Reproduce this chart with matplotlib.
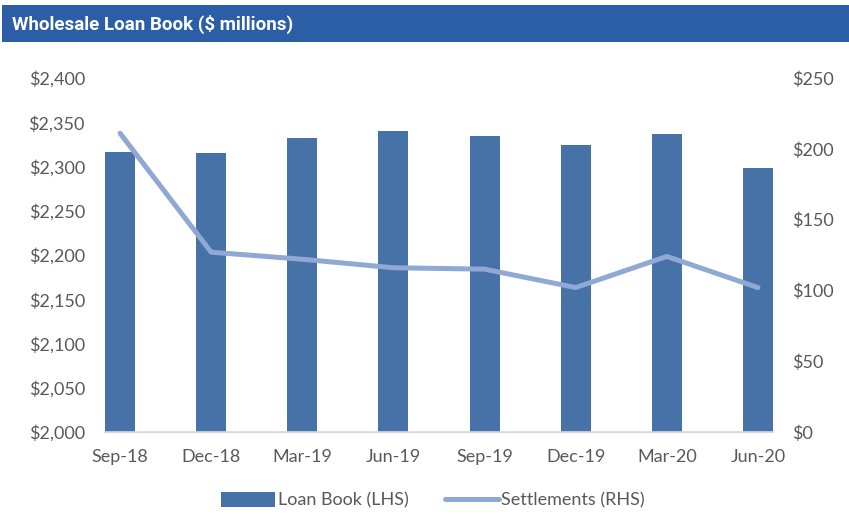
import matplotlib.pyplot as plt
from matplotlib.patches import Rectangle
from matplotlib.ticker import FuncFormatter

quarters = ["Sep-18", "Dec-18", "Mar-19", "Jun-19", "Sep-19", "Dec-19", "Mar-20", "Jun-20"]
loan_book = [2316, 2315, 2332, 2340, 2334, 2324, 2337, 2298]
settlements = [211, 127, 122, 116, 115, 102, 124, 102]

plt.rcParams['font.family'] = ['Lato', 'DejaVu Sans']
grey = '#595959'
bar_col = '#4672A8'
line_col = '#8FA8D4'

fig = plt.figure(figsize=(8.49, 5.15), dpi=100)
W, H = 849, 515

# title banner
fig.patches.append(Rectangle((2 / W, 1 - 42 / H), 847 / W, 37 / H, transform=fig.transFigure,
                             facecolor='#2C5EA8', edgecolor='none'))
fig.text(12 / W, 1 - 24 / H, "Wholesale Loan Book ($ millions)", color='white',
         fontsize=13.5, fontweight='bold', va='center', ha='left',
         family=['Roboto', 'DejaVu Sans'])

ax = fig.add_axes([105 / W, 1 - 432 / H, 668 / W, 354 / H])
x = range(len(quarters))
ax.bar(x, loan_book, width=0.33, color=bar_col, label='Loan Book (LHS)', zorder=2)
ax.set_ylim(2000, 2400)
ax.set_yticks(range(2000, 2401, 50))
ax.yaxis.set_major_formatter(FuncFormatter(lambda v, p: f"${v:,.0f}"))
ax.set_xlim(-0.165, 7.165)
ax.set_xticks(list(x))
ax.set_xticklabels(quarters)

ax2 = ax.twinx()
ax2.plot(x, settlements, color=line_col, lw=3.6, solid_capstyle='round', label='Settlements (RHS)', zorder=3)
ax2.set_ylim(0, 250)
ax2.set_yticks(range(0, 251, 50))
ax2.yaxis.set_major_formatter(FuncFormatter(lambda v, p: f"${v:,.0f}"))

for a in (ax, ax2):
    for s in ('top', 'left', 'right'):
        a.spines[s].set_visible(False)
    a.spines['bottom'].set_color('#D9D9D9')
    a.tick_params(length=0, labelsize=13, labelcolor=grey)
ax.spines['bottom'].set_linewidth(1.2)
ax.tick_params(axis='y', pad=14.5)
ax.tick_params(axis='x', pad=12)
ax2.tick_params(axis='y', pad=14)

h1, l1 = ax.get_legend_handles_labels()
h2, l2 = ax2.get_legend_handles_labels()
fig.legend(h1 + h2, l1 + l2, loc='center', bbox_to_anchor=(0.51, 1 - 500 / H), ncol=2,
           frameon=False, fontsize=13, labelcolor=grey, handlelength=3.0,
           handleheight=0.9, handletextpad=0.15, columnspacing=2.0)

fig.savefig('out.png', dpi=100)
